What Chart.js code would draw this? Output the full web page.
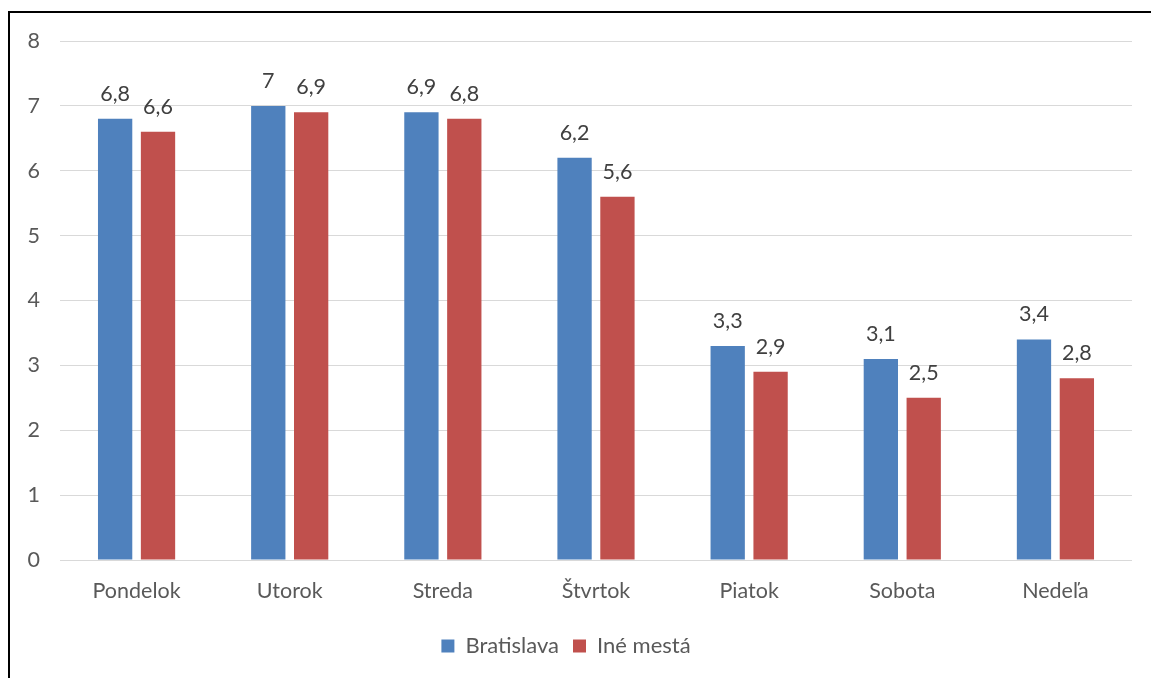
<html><head>
<meta charset="UTF-8">
<title>Bratislava vs. iné mestá</title>
<script src="https://cdn.jsdelivr.net/npm/chart.js"></script>
<style>
body {
  margin: 0;
  background: #ffffff;
  overflow: hidden;
}
.frame {
  position: absolute;
  left: 8px;
  top: 11px;
  width: 1200px;
  height: 700px;
  border-left: 2px solid #000;
  border-top: 2px solid #000;
}
.wrap {
  position: absolute;
  left: 0;
  top: 0;
  width: 1151px;
  height: 678px;
}
</style>
</head>
<body>

<div class="frame"></div>
<div class="wrap"><canvas id="chart"></canvas></div>

<script>
const days = ["Pondelok", "Utorok", "Streda", "Štvrtok", "Piatok", "Sobota", "Nedeľa"];
const bratislava = [6.8, 7, 6.9, 6.2, 3.3, 3.1, 3.4];
const ineMesta = [6.6, 6.9, 6.8, 5.6, 2.9, 2.5, 2.8];
const yTicks = [0, 1, 2, 3, 4, 5, 6, 7, 8];

const FONT = "Lato, 'Open Sans', sans-serif";
const fmt = v => String(v).replace('.', ',');

// simple value labels above each bar
const barLabels = {
  id: 'barLabels',
  afterDatasetsDraw(chart) {
    const ctx = chart.ctx;
    ctx.save();
    ctx.font = `21.5px ${FONT}`;
    ctx.fillStyle = '#404040';
    ctx.textAlign = 'center';
    ctx.textBaseline = 'alphabetic';
    chart.data.datasets.forEach((ds, i) => {
      chart.getDatasetMeta(i).data.forEach((bar, j) => {
        ctx.fillText(fmt(ds.data[j]), bar.x, bar.y - 18);
      });
    });
    ctx.restore();
  }
};

new Chart(document.getElementById('chart'), {
  type: 'bar',
  data: {
    labels: days,
    datasets: [
      { label: 'Bratislava', data: bratislava, backgroundColor: '#4F81BD' },
      { label: 'Iné mestá', data: ineMesta, backgroundColor: '#C0504D' }
    ]
  },
  options: {
    responsive: true,
    maintainAspectRatio: false,
    animation: false,
    categoryPercentage: 0.56,
    barPercentage: 0.8,
    layout: { padding: { top: 41, right: 19, bottom: 11, left: 0 } },
    plugins: {
      legend: {
        position: 'bottom',
        labels: {
          boxWidth: 13,
          boxHeight: 13,
          color: '#595959',
          font: { family: FONT, size: 22 },
          padding: 14
        }
      },
      tooltip: { enabled: false }
    },
    scales: {
      x: {
        grid: { display: false, drawTicks: false },
        border: { display: false },
        ticks: { color: '#595959', font: { family: FONT, size: 21.5 }, padding: 18 },
        afterFit: s => { s.height = 61; }
      },
      y: {
        min: 0,
        max: 8,
        afterBuildTicks: s => { s.ticks = yTicks.map(v => ({ value: v })); },
        grid: { color: '#d9d9d9', lineWidth: 1, drawTicks: false },
        border: { display: false },
        ticks: { color: '#595959', font: { family: FONT, size: 21.5 }, padding: 20 },
        afterFit: s => { s.width = 60; }
      }
    }
  },
  plugins: [barLabels]
});
</script>

</body></html>
